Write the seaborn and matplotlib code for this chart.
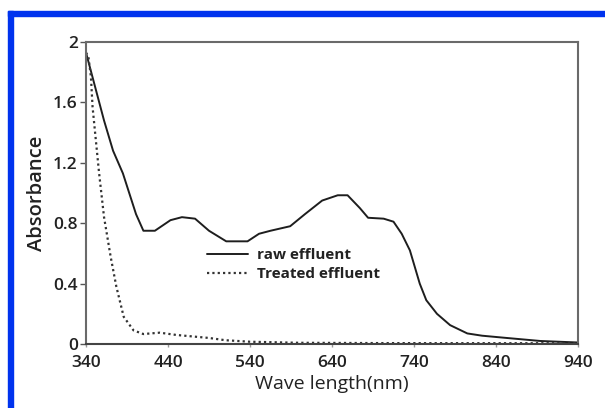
import matplotlib
matplotlib.use("Agg")
import matplotlib.pyplot as plt
import matplotlib.patches as mpatches
import seaborn as sns
import pandas as pd

raw_wl = [340, 362, 373, 385, 401, 410, 424, 443, 457, 473, 490, 511, 537, 551, 565, 589,
          607, 628, 647, 659, 674, 684, 703, 715, 725, 735, 741, 747, 755, 768, 784, 805,
          823, 853, 894, 926, 940]
raw_abs = [1.93, 1.48, 1.28, 1.13, 0.86, 0.75, 0.75, 0.82, 0.84, 0.83, 0.75, 0.68, 0.68,
           0.73, 0.75, 0.78, 0.86, 0.95, 0.985, 0.985, 0.90, 0.836, 0.83, 0.81, 0.73, 0.62,
           0.51, 0.40, 0.29, 0.20, 0.125, 0.07, 0.055, 0.04, 0.02, 0.013, 0.01]

tr_wl = [340, 343, 346, 348, 352, 356, 362, 370, 377, 386, 398, 410, 430, 450, 470, 490,
         510, 540, 600, 700, 940]
tr_abs = [1.93, 1.90, 1.77, 1.57, 1.35, 1.13, 0.84, 0.58, 0.38, 0.18, 0.09, 0.066, 0.075,
          0.06, 0.05, 0.04, 0.025, 0.015, 0.008, 0.006, 0.005]

x_ticks = [340, 440, 540, 640, 740, 840, 940]
y_ticks = [0, 0.4, 0.8, 1.2, 1.6, 2]
y_labels = ["0", "0.4", "0.8", "1.2", "1.6", "2"]

sns.set_style("white")
plt.rcParams["font.family"] = ["Open Sans", "DejaVu Sans"]

fig = plt.figure(figsize=(6.05, 4.08), dpi=100)
ax = fig.add_axes([86 / 605, 64 / 408, 492 / 605, 302 / 408])

raw_df = pd.DataFrame({"wl": raw_wl, "abs": raw_abs})
tr_df = pd.DataFrame({"wl": tr_wl, "abs": tr_abs})
sns.lineplot(data=raw_df, x="wl", y="abs", ax=ax, color="#1e1e1e", lw=1.4,
             label="raw effluent", estimator=None, sort=False)
sns.lineplot(data=tr_df, x="wl", y="abs", ax=ax, color="#333333", lw=1.6,
             linestyle=(0, (1, 1.4)), label="Treated effluent", estimator=None, sort=False)

ax.set_xlim(340, 940)
ax.set_ylim(0, 2)
ax.set_xticks(x_ticks)
ax.set_xticklabels([str(t) for t in x_ticks])
ax.set_yticks(y_ticks)
ax.set_yticklabels(y_labels)
for lab in ax.get_xticklabels() + ax.get_yticklabels():
    lab.set_fontsize(12.5)
    lab.set_fontweight("semibold")
    lab.set_color("#222222")
ax.tick_params(axis="y", direction="out", length=4, width=1, color="#555555", pad=2, left=True)
ax.tick_params(axis="x", direction="out", length=2, width=1, color="#999999", pad=6, bottom=True)

for side in ["left", "right", "top"]:
    ax.spines[side].set_color("#6a6a6a")
    ax.spines[side].set_linewidth(1.5)
ax.spines["bottom"].set_color("#444444")
ax.spines["bottom"].set_linewidth(1.5)

ax.set_xlabel("Wave length(nm)", fontsize=14, color="#222222", labelpad=3)
ax.set_ylabel("Absorbance", fontsize=14.5, color="#222222", fontweight="semibold", labelpad=4)

leg = ax.legend(loc="upper left", bbox_to_anchor=(0.246, 0.318), frameon=False,
                borderpad=0, borderaxespad=0, handlelength=2.7, handletextpad=0.6,
                labelspacing=0.35, prop={"size": 11, "weight": "bold", "family": ["Open Sans", "DejaVu Sans"]})
for t in leg.get_texts():
    t.set_color("#222222")

# blue border of the original framing
fig.patches.append(mpatches.Rectangle((8 / 605, 0), 5 / 605, (408 - 11) / 408,
                                      transform=fig.transFigure, color="#0033ee", zorder=0))
fig.patches.append(mpatches.Rectangle((8 / 605, (408 - 16) / 408), 597 / 605, 5 / 408,
                                      transform=fig.transFigure, color="#0033ee", zorder=0))

fig.savefig("out.png", dpi=100)
